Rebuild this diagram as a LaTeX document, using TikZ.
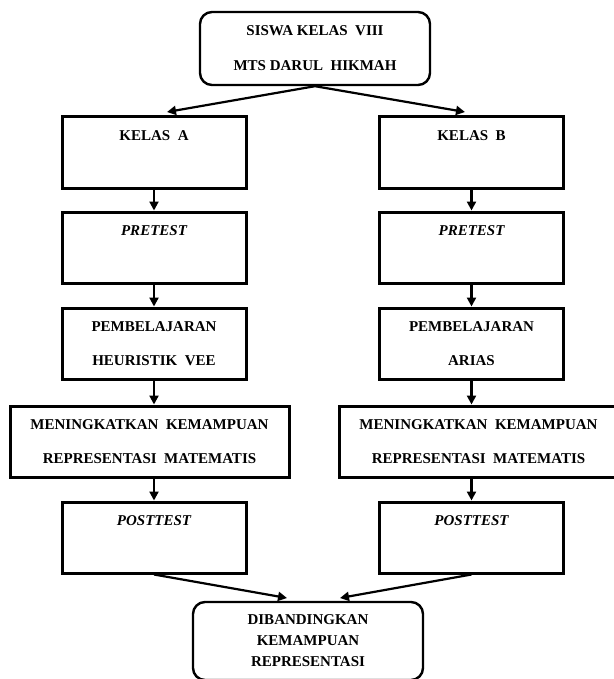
\documentclass[tikz,border=0pt]{standalone}
\usepackage{fontspec}
\setmainfont{Liberation Serif}
\usetikzlibrary{arrows.meta}

\begin{document}
\begin{tikzpicture}[x=1pt,y=-1pt,
    box/.style={draw,line width=3pt,minimum width=184pt,minimum height=71pt,
      align=center,inner sep=0pt,font=\fontsize{15}{34}\selectfont\bfseries},
    widebox/.style={box,minimum width=279pt},
    roundbox/.style={box,line width=2.4pt,rounded corners=12pt,minimum width=230pt},
    flow/.style={->,line width=2.2pt},
    >={Triangle[length=9pt,width=9pt]}]
      \useasboundingbox (0,0) rectangle (613,679);
      % top and bottom
      \node[roundbox,minimum height=73pt,font=\fontsize{15}{35}\selectfont\bfseries] (siswa) at (315,48.5) {SISWA KELAS \ VIII\\MTS DARUL \ HIKMAH};
      \node[roundbox,minimum height=78pt,font=\fontsize{15}{21}\selectfont\bfseries] (banding) at (308,641) {DIBANDINGKAN\\KEMAMPUAN\\REPRESENTASI};
      % kelas A
      \node[box] (kelasA) at (154,152.5) {KELAS \ A\\\mbox{}};
      \node[box] (preA) at (154,247.5) {\itshape PRETEST\\\mbox{}};
      \node[box] (pembA) at (154,343.5) {PEMBELAJARAN\\HEURISTIK \ VEE};
      \node[widebox] (menA) at (149.5,441.5) {MENINGKATKAN \ KEMAMPUAN\\REPRESENTASI \ MATEMATIS};
      \node[box] (postA) at (154,537.5) {\itshape POSTTEST\\\mbox{}};
      % kelas B
      \node[box] (kelasB) at (471.5,152.5) {KELAS \ B\\\mbox{}};
      \node[box] (preB) at (471.5,247.5) {\itshape PRETEST\\\mbox{}};
      \node[box] (pembB) at (471.5,343.5) {PEMBELAJARAN\\ARIAS};
      \node[widebox] (menB) at (478.5,441.5) {MENINGKATKAN \ KEMAMPUAN\\REPRESENTASI \ MATEMATIS};
      \node[box] (postB) at (471.5,537.5) {\itshape POSTTEST\\\mbox{}};
      % free ends
      \coordinate (tipA) at (167,112);
      \coordinate (tipB) at (465,112);
      \coordinate (tipC) at (287,598);
      \coordinate (tipD) at (340,598);
      % arrows
      \draw[flow] (siswa.south) -- (tipA);
      \draw[flow] (siswa.south) -- (tipB);
      \draw[flow] (kelasA) -- (preA);
      \draw[flow] (preA) -- (pembA);
      \draw[flow] (pembA.south) -- (pembA.south |- menA.north);
      \draw[flow] (menA.south -| postA) -- (postA.north);
      \draw[flow] (kelasB) -- (preB);
      \draw[flow] (preB) -- (pembB);
      \draw[flow] (pembB.south) -- (pembB.south |- menB.north);
      \draw[flow] (menB.south -| postB) -- (postB.north);
      \draw[flow] (postA.south) -- (tipC);
      \draw[flow] (postB.south) -- (tipD);
\end{tikzpicture}
\end{document}
